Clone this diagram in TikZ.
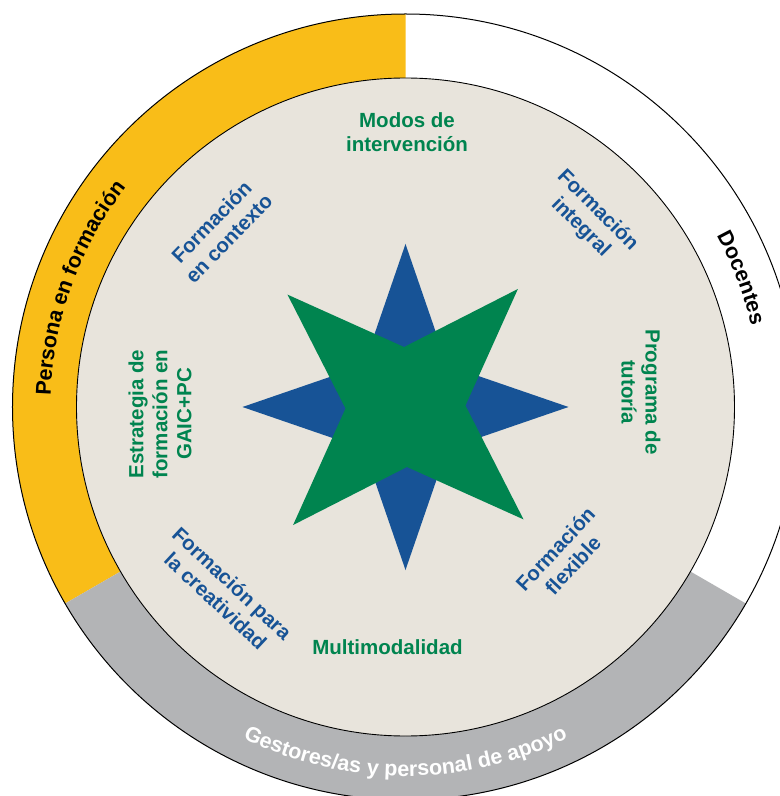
\documentclass[tikz,border=0pt]{standalone}
\usepackage{fontspec}
\setmainfont{Liberation Sans}
\usetikzlibrary{decorations.text}
\definecolor{ringyellow}{HTML}{F9BD18}
\definecolor{ringgray}{HTML}{B3B4B6}
\definecolor{diskfill}{HTML}{E8E4DC}
\definecolor{starblue}{HTML}{175396}
\definecolor{stargreen}{HTML}{00844F}
\newcommand{\myringfont}{\fontsize{21.5bp}{24bp}\selectfont\bfseries}
\begin{document}
\begin{tikzpicture}[x=1bp,y=1bp,
  lbl/.style={align=center, font=\fontsize{20.5bp}{24bp}\selectfont\bfseries, inner sep=0pt},
  bluelbl/.style={lbl, text=starblue},
  greenlbl/.style={lbl, text=stargreen},
  ringtext/.style={decorate, decoration={text along path, text align=center, text color=#1}},
  ]
\useasboundingbox (-405.5,-389) rectangle (374.5,407);
\fill[white] (-405.5,-389) rectangle (374.5,407);
% ring sectors
\fill[ringyellow] (90:393) arc[start angle=90, end angle=210, radius=393]
  -- (210:329) arc[start angle=210, end angle=90, radius=329] -- cycle;
\fill[ringgray] (210:393) arc[start angle=210, end angle=330, radius=393]
  -- (330:329) arc[start angle=330, end angle=210, radius=329] -- cycle;
\draw[line width=1bp] (0,0) circle[radius=393];
% inner disk
\draw[line width=0.9bp, fill=diskfill] (0,0) circle[radius=329];
% stars
\fill[starblue] (0:163) -- (45:59) -- (90:163) -- (135:59) -- (180:163)
  -- (225:59) -- (270:163) -- (315:59) -- cycle;
\fill[stargreen] (46.4:163) -- (91.4:60) -- (136.4:163) -- (181.4:60) -- (226.4:163)
  -- (271.4:60) -- (316.4:163) -- (1.4:60) -- cycle;
% ring texts
\path[ringtext=black, decoration={text={|\myringfont|Persona en formación}}]
  (215:355) arc[start angle=215, end angle=105, radius=355];
\path[ringtext=black, decoration={text={|\myringfont|Docentes}}]
  (81:355) arc[start angle=81, end angle=-39, radius=355];
\path[ringtext=white, decoration={text={|\myringfont|Gestores/as y personal de apoyo}}]
  (200:369) arc[start angle=200, end angle=340, radius=369];
% inner labels
\node[greenlbl] (modos) at (1.5,274.8) {Modos de\\intervención};
\node[bluelbl, rotate=-45] (integral) at (183.5,188) {Formación\\integral};
\node[greenlbl, rotate=-90] (tutoria) at (235.5,15) {Programa de\\tutoría};
\node[bluelbl, rotate=47] (flexible) at (158.5,-150) {Formación\\flexible};
\node[greenlbl] (multi) at (-18,-240.5) {Multimodalidad};
\node[bluelbl, rotate=-43] (creat) at (-181.5,-185) {Formación para\\la creatividad};
\node[greenlbl, rotate=90] (estr) at (-245.5,-7) {Estrategia de\\formación en\\GAIC+PC};
\node[bluelbl, rotate=46] (ctx) at (-185.5,177) {Formación\\en contexto};
\end{tikzpicture}
\end{document}
